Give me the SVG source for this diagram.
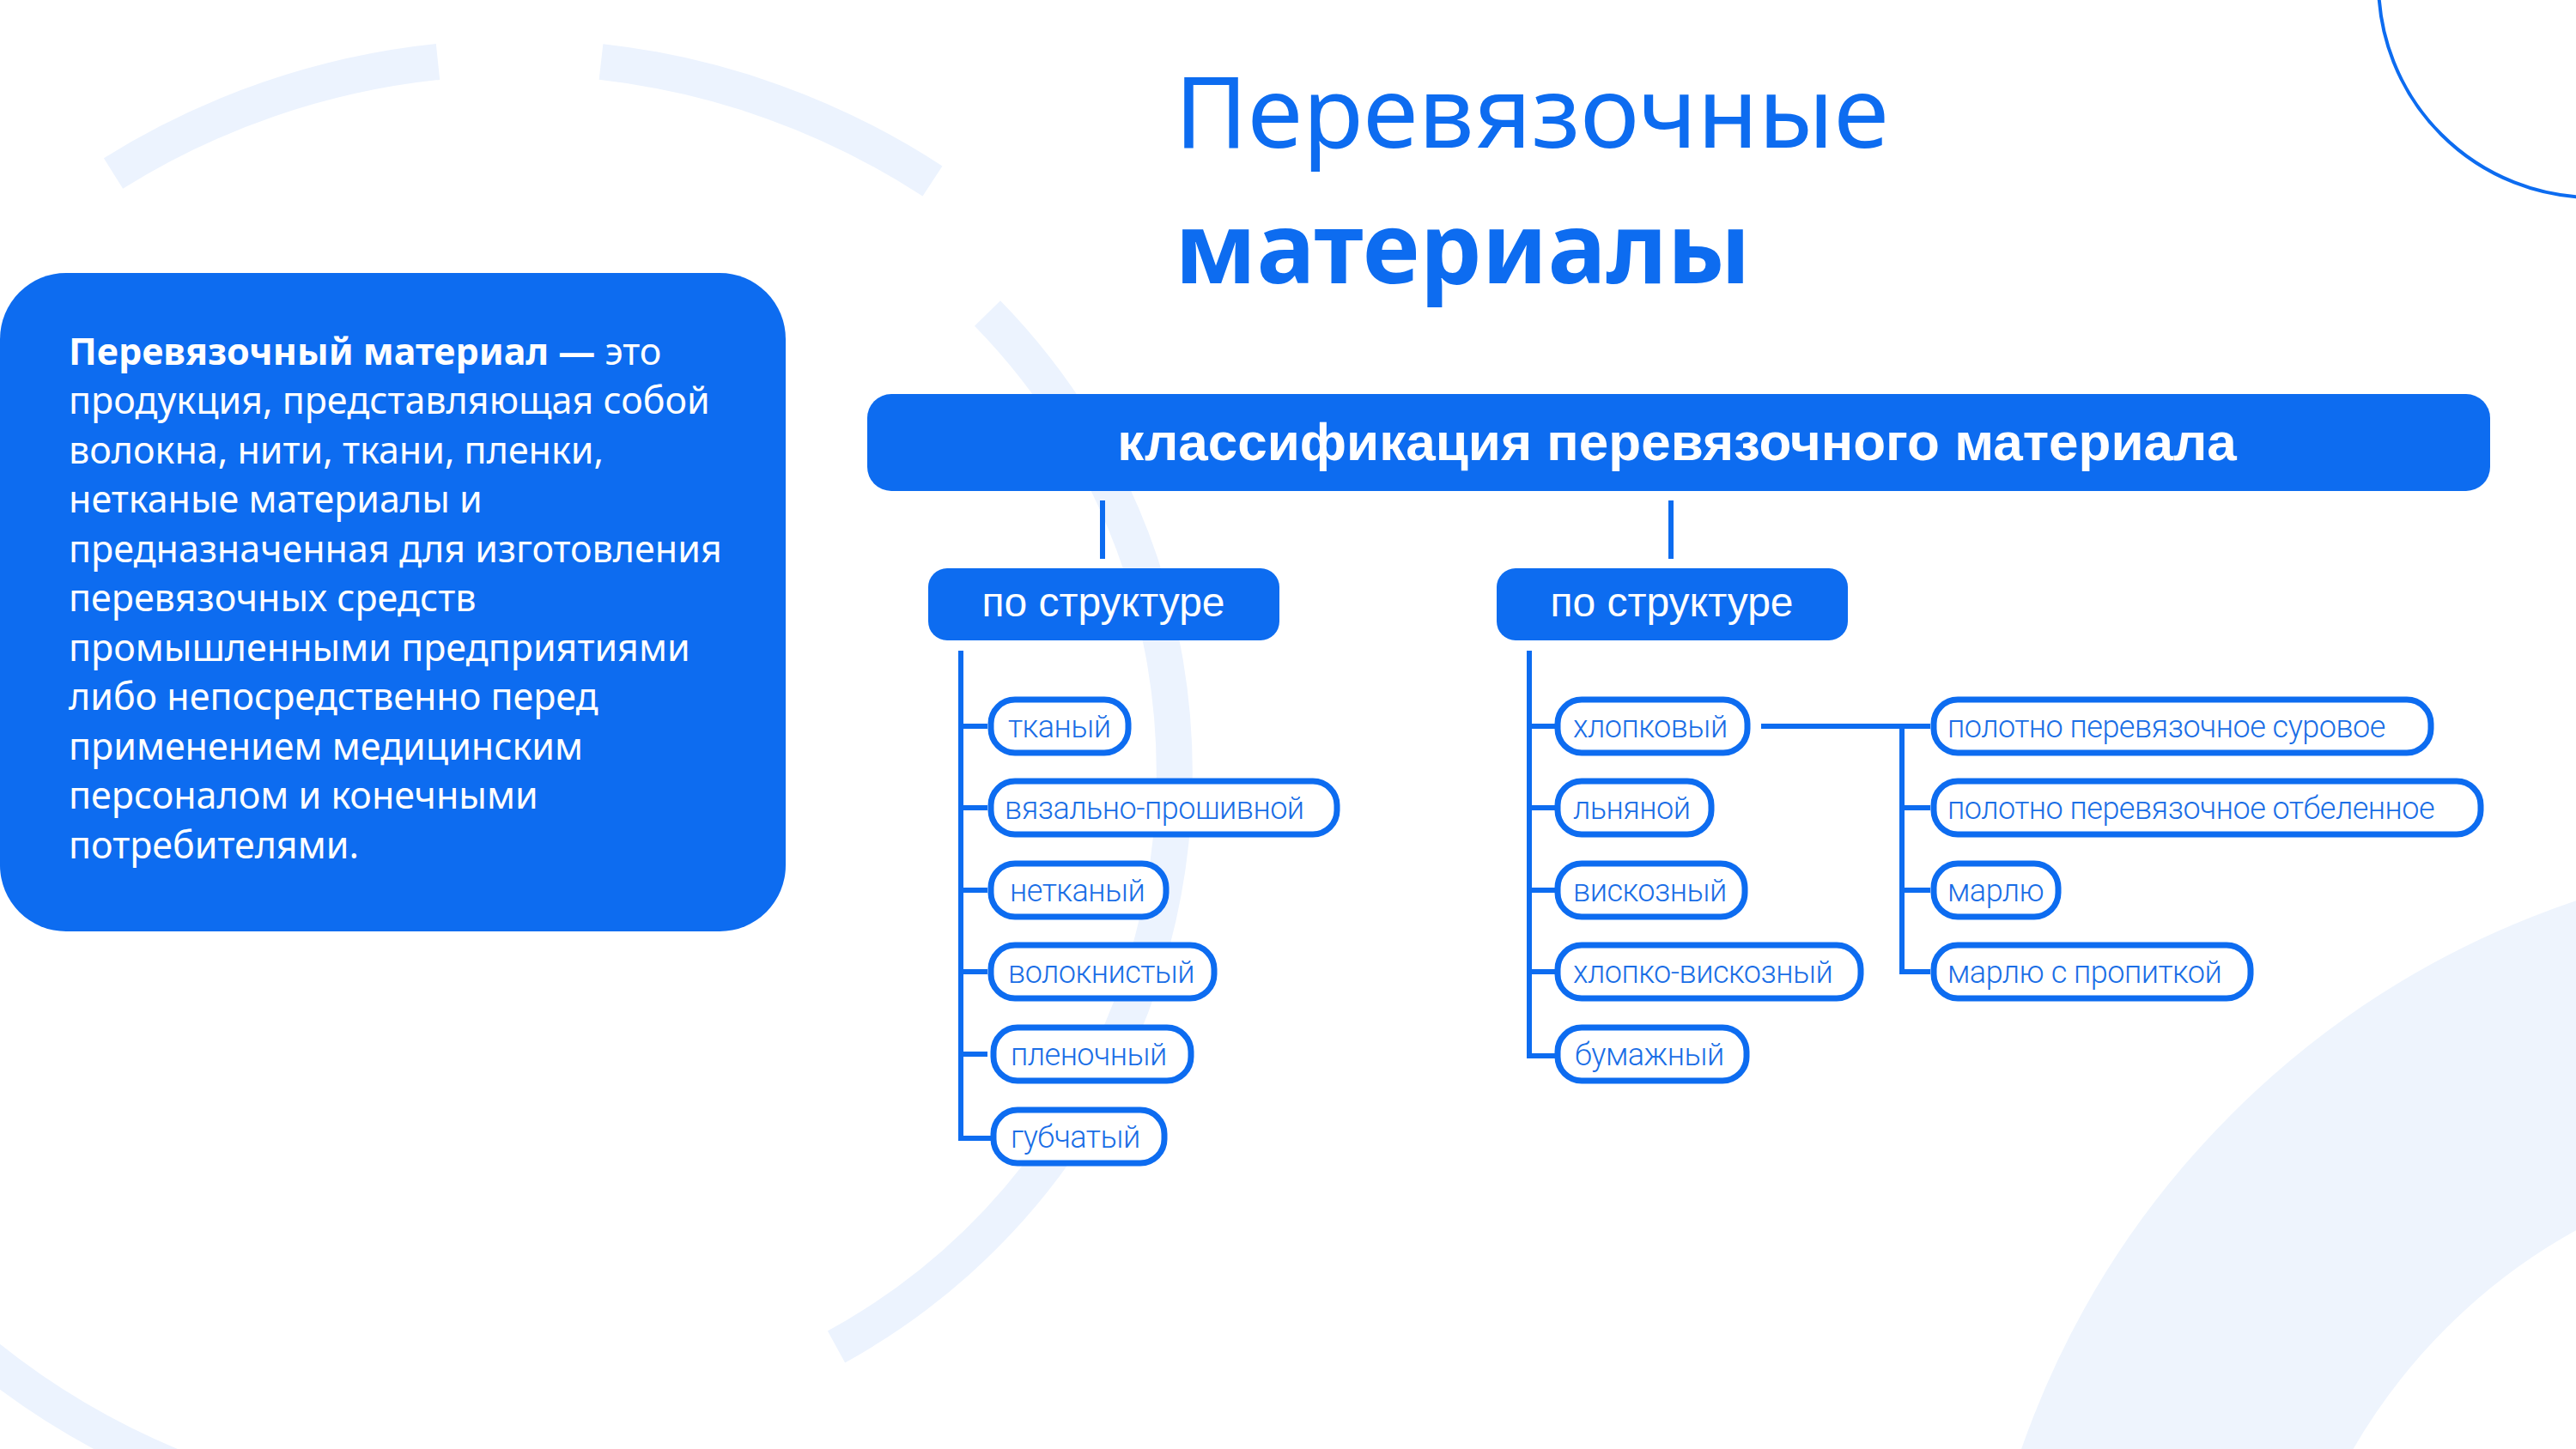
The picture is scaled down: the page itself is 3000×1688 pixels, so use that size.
<svg xmlns="http://www.w3.org/2000/svg" width="3000" height="1688" viewBox="0 0 3000 1688">
<style>
.deco{fill:none;stroke:#ecf3fe;stroke-width:42}
.ln{stroke:#0d6cf0;stroke-width:6;fill:none}
.leaf rect{fill:#fff;stroke:#0d6cf0;stroke-width:7}
.leaf text{font-family:Roboto,"Liberation Sans",sans-serif;font-weight:300;font-size:36px;fill:#1a6ee6;letter-spacing:-0.5px}
.hd rect{fill:#0d6cf0}
.hd text{font-family:"Liberation Sans",Arial,sans-serif;fill:#fff;text-anchor:middle}
.bt{font-family:"Noto Sans","Open Sans",sans-serif;font-size:43px;fill:#fff}
</style>
<rect width="3000" height="1688" fill="#fff"/>
<g id="decor">
<path class="deco" d="M 132 202 A 888 888 0 0 1 510 72"/>
<path class="deco" d="M 700 72 A 888 888 0 0 1 1086 211"/>
<path class="deco" d="M 1150 365 A 765 765 0 0 1 1296 1223"/>
<path class="deco" d="M 1230 1340 A 765 765 0 0 1 974 1569"/>
<path class="deco" d="M 205 1710 A 888 888 0 0 1 -77 1526"/>
<circle cx="3329" cy="2028" r="856" fill="none" stroke="#eef4fd" stroke-width="353"/>
<circle cx="3020" cy="-20" r="250" fill="none" stroke="#0d6cf0" stroke-width="4"/>
</g>
<g id="title" font-family="'Noto Sans','Open Sans',sans-serif" fill="#0d6cf0">
<text x="1368" y="172" font-size="116">Перевязочные</text>
<text x="1368" y="330" font-size="114" font-weight="700">материалы</text>
</g>
<g id="definition">
<rect x="0" y="318" width="915" height="767" rx="77" fill="#0d6cf0"/>
<text class="bt" x="80" y="425"><tspan font-weight="700">Перевязочный материал —</tspan> это</text>
<text class="bt" x="80" y="482">продукция, представляющая собой</text>
<text class="bt" x="80" y="540">волокна, нити, ткани, пленки,</text>
<text class="bt" x="80" y="597">нетканые материалы и</text>
<text class="bt" x="80" y="655">предназначенная для изготовления</text>
<text class="bt" x="80" y="712">перевязочных средств</text>
<text class="bt" x="80" y="770">промышленными предприятиями</text>
<text class="bt" x="80" y="827">либо непосредственно перед</text>
<text class="bt" x="80" y="885">применением медицинским</text>
<text class="bt" x="80" y="942">персоналом и конечными</text>
<text class="bt" x="80" y="1000">потребителями.</text>
</g>
<g id="connectors">
<path class="ln" d="M1284 583V651M1946 583V651"/>
<path class="ln" d="M1119 758V1326H1154M1119 846H1150M1119 941H1150M1119 1037H1150M1119 1132H1150M1119 1228H1150"/>
<path class="ln" d="M1781 758V1230H1812M1781 846H1812M1781 941H1812M1781 1037H1812M1781 1132H1812"/>
<path class="ln" d="M2051 846H2248M2215 846V1132H2248M2215 941H2248M2215 1037H2248"/>
</g>
<g id="root" class="hd">
<rect x="1010" y="459" width="1890" height="113" rx="28"/>
<text x="1953" y="536" font-size="62" font-weight="700">классификация перевязочного материала</text>
</g>
<g id="sub1" class="hd">
<rect x="1081" y="662" width="409" height="84" rx="22"/>
<text x="1285" y="718" font-size="48">по структуре</text>
</g>
<g id="sub2" class="hd">
<rect x="1743" y="662" width="409" height="84" rx="22"/>
<text x="1947" y="718" font-size="48">по структуре</text>
</g>
<g id="l1" class="leaf"><rect x="1154" y="815" width="160" height="62" rx="28"/><text x="1174" y="859">тканый</text></g>
<g id="l2" class="leaf"><rect x="1154" y="910" width="403" height="62" rx="28"/><text x="1170" y="954">вязально-прошивной</text></g>
<g id="l3" class="leaf"><rect x="1154" y="1006" width="204" height="62" rx="28"/><text x="1176" y="1050">нетканый</text></g>
<g id="l4" class="leaf"><rect x="1154" y="1101" width="260" height="62" rx="28"/><text x="1174" y="1145">волокнистый</text></g>
<g id="l5" class="leaf"><rect x="1157" y="1197" width="230" height="62" rx="28"/><text x="1177" y="1241">пленочный</text></g>
<g id="l6" class="leaf"><rect x="1157" y="1293" width="199" height="62" rx="28"/><text x="1177" y="1337">губчатый</text></g>
<g id="r1" class="leaf"><rect x="1814" y="815" width="221" height="62" rx="28"/><text x="1832" y="859">хлопковый</text></g>
<g id="r2" class="leaf"><rect x="1814" y="910" width="179" height="62" rx="28"/><text x="1832" y="954">льняной</text></g>
<g id="r3" class="leaf"><rect x="1814" y="1006" width="218" height="62" rx="28"/><text x="1832" y="1050">вискозный</text></g>
<g id="r4" class="leaf"><rect x="1814" y="1101" width="353" height="62" rx="28"/><text x="1832" y="1145">хлопко-вискозный</text></g>
<g id="r5" class="leaf"><rect x="1814" y="1197" width="220" height="62" rx="28"/><text x="1834" y="1241">бумажный</text></g>
<g id="c1" class="leaf"><rect x="2252" y="815" width="579" height="62" rx="28"/><text x="2268" y="859">полотно перевязочное суровое</text></g>
<g id="c2" class="leaf"><rect x="2252" y="910" width="637" height="62" rx="28"/><text x="2268" y="954">полотно перевязочное отбеленное</text></g>
<g id="c3" class="leaf"><rect x="2252" y="1006" width="145" height="62" rx="28"/><text x="2268" y="1050">марлю</text></g>
<g id="c4" class="leaf"><rect x="2252" y="1101" width="369" height="62" rx="28"/><text x="2268" y="1145">марлю с пропиткой</text></g>
</svg>
